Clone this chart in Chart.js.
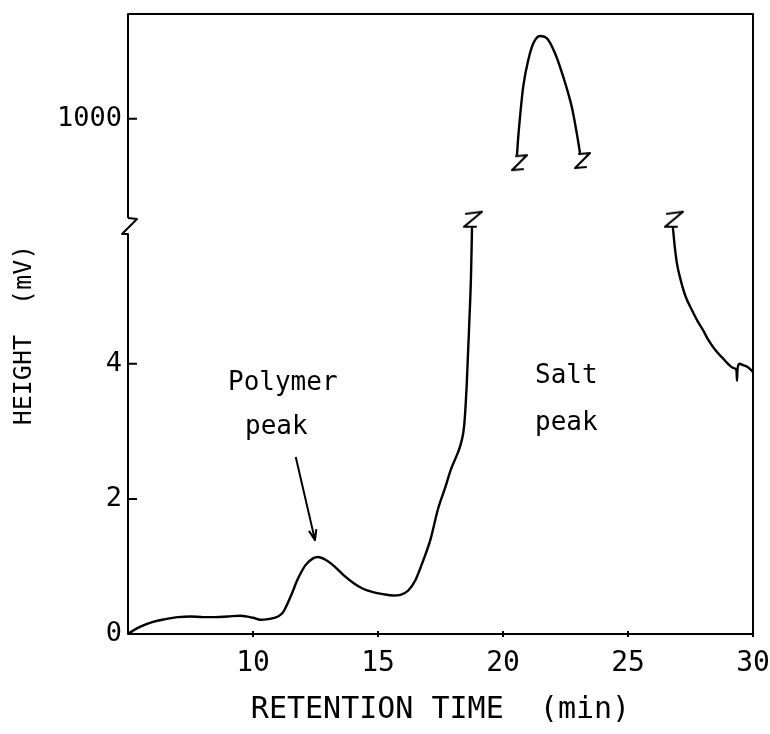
<!DOCTYPE html>
<html lang="en">
<head>
<meta charset="UTF-8">
<title>Polymer and salt peaks</title>
<script src="https://cdn.jsdelivr.net/npm/chart.js"></script>
<style>
  body { margin: 0; background: #fff; }
  canvas { display: block; }
</style>
</head>
<body>
<canvas id="chrom" width="770" height="734"></canvas>
<script>
// trace up to the salt peak, lower part of the axis (mV)
const riseTimes = [5.0, 5.2, 5.5, 6.0, 6.5, 7.0, 7.5, 8.0, 8.5, 9.0, 9.5, 10.0, 10.3, 10.6, 11.0, 11.2,
  11.5, 11.8, 12.1, 12.4, 12.6, 12.9, 13.2, 13.6, 14.0, 14.4, 14.8, 15.2, 15.6, 15.9, 16.2, 16.5,
  16.8, 17.1, 17.4, 17.7, 17.9, 18.1, 18.3, 18.45, 18.55, 18.65, 18.72, 18.76];
const riseHeights = [0.0, 0.05, 0.11, 0.18, 0.22, 0.25, 0.26, 0.25, 0.25, 0.26, 0.27, 0.24, 0.21, 0.22, 0.26, 0.32,
  0.55, 0.82, 1.02, 1.12, 1.14, 1.10, 1.02, 0.88, 0.76, 0.67, 0.62, 0.59, 0.57, 0.58, 0.64, 0.80,
  1.08, 1.40, 1.85, 2.18, 2.42, 2.60, 2.80, 3.10, 3.70, 4.60, 5.30, 6.0];
// top of the salt peak, upper part of the axis
const peakTimes = [20.56, 20.6, 20.68, 20.81, 21.01, 21.21, 21.48, 21.75, 22.08, 22.41, 22.75, 22.95, 23.08];
const peakHeights = [932, 960, 1003, 1060, 1109, 1140, 1154, 1150, 1122, 1078, 1022, 973, 936];
// tail after the salt peak
const tailTimes = [26.8, 26.88, 26.96, 27.1, 27.3, 27.55, 27.8, 28.0, 28.2, 28.5, 28.8, 29.0, 29.2,
  29.34, 29.36, 29.38, 29.46, 29.6, 29.8, 30.0];
const tailHeights = [6.0, 5.7, 5.48, 5.25, 5.0, 4.8, 4.62, 4.5, 4.36, 4.2, 4.08, 4.0, 3.94,
  3.9, 3.75, 3.92, 4.0, 3.98, 3.95, 3.88];

const xTicks = [10, 15, 20, 25, 30];
const lowTicks = [0, 2, 4];
const highTicks = [1000];

// text and arrow inside the plot, in data units of the lower axis
const notes = [
  { text: 'Polymer', x: 9.0, y: 3.61 },
  { text: 'peak', x: 9.68, y: 2.96 },
  { text: 'Salt', x: 21.28, y: 3.72 },
  { text: 'peak', x: 21.28, y: 3.02 }
];
const arrow = { from: [11.71, 2.62], to: [12.48, 1.39] };

const mono = '"DejaVu Sans Mono", "Liberation Mono", monospace';

// little "Z" drawn where a trace runs off its part of the axis
function zMark(below) {
  const c = document.createElement('canvas');
  c.width = 40; c.height = 44;
  const g = c.getContext('2d');
  g.translate(20, 22);
  g.strokeStyle = '#000';
  g.lineWidth = 2.2;
  g.lineJoin = 'round';
  g.lineCap = 'round';
  g.beginPath();
  if (below) {
    g.moveTo(-1, 1); g.lineTo(10, 0); g.lineTo(-5, 15); g.lineTo(6, 14);
  } else {
    g.moveTo(0, 0); g.lineTo(0, -2);
    g.moveTo(-6, -15); g.lineTo(10, -17); g.lineTo(-8, -2); g.lineTo(4, -2);
  }
  g.stroke();
  return c;
}
const zUp = zMark(false);
const zDown = zMark(true);

function pts(xs, ys) {
  return xs.map((x, i) => ({ x: x, y: ys[i] }));
}
function trace(xs, ys, axis, ends, img) {
  return {
    data: pts(xs, ys),
    yAxisID: axis,
    borderColor: '#000',
    borderWidth: 2.4,
    cubicInterpolationMode: 'monotone',
    fill: false,
    clip: false,
    pointRadius: c => ends.includes(c.dataIndex) ? 8 : 0,
    pointStyle: c => ends.includes(c.dataIndex) ? img : 'circle'
  };
}

function setTicks(list) {
  return scale => { scale.ticks = list.map(v => ({ value: v })); };
}
function noPad(scale) {
  scale.paddingTop = 0; scale.paddingBottom = 0;
  scale.paddingLeft = 0; scale.paddingRight = 0;
}

const frame = {
  id: 'frame',
  afterDraw(chart) {
    const { ctx, chartArea: a, scales } = chart;
    const L = a.left, brk = scales.y.top;
    ctx.save();
    ctx.strokeStyle = '#000';
    ctx.lineWidth = 2;
    ctx.lineJoin = 'round';
    ctx.beginPath();
    ctx.moveTo(L, brk - 8);
    ctx.lineTo(L, a.top);
    ctx.lineTo(a.right, a.top);
    ctx.lineTo(a.right, a.bottom + 3);
    ctx.moveTo(a.right, a.bottom);
    ctx.lineTo(L, a.bottom);
    ctx.lineTo(L, brk + 8);
    ctx.lineTo(L - 6, brk + 8);
    ctx.lineTo(L + 9, brk - 7);
    ctx.lineTo(L, brk - 8);
    // inward ticks on the height axis
    [scales.y, scales.y2].forEach(s => s.ticks.forEach(t => {
      const py = s.getPixelForValue(t.value);
      ctx.moveTo(L, py); ctx.lineTo(L + 9, py);
    }));
    scales.x.ticks.forEach(t => {
      const px = scales.x.getPixelForValue(t.value);
      ctx.moveTo(px, a.bottom - 3); ctx.lineTo(px, a.bottom + 3);
    });
    // arrow to the polymer peak
    const x0 = scales.x.getPixelForValue(arrow.from[0]), y0 = scales.y.getPixelForValue(arrow.from[1]);
    const x1 = scales.x.getPixelForValue(arrow.to[0]), y1 = scales.y.getPixelForValue(arrow.to[1]);
    ctx.moveTo(x0, y0); ctx.lineTo(x1, y1);
    const ang = Math.atan2(y1 - y0, x1 - x0);
    ctx.moveTo(x1 - 11 * Math.cos(ang - 0.35), y1 - 11 * Math.sin(ang - 0.35));
    ctx.lineTo(x1, y1);
    ctx.lineTo(x1 - 11 * Math.cos(ang + 0.35), y1 - 11 * Math.sin(ang + 0.35));
    ctx.stroke();

    ctx.fillStyle = '#000';
    ctx.font = '26px ' + mono;
    ctx.textAlign = 'left';
    ctx.textBaseline = 'alphabetic';
    notes.forEach(n => {
      ctx.fillText(n.text, scales.x.getPixelForValue(n.x), scales.y.getPixelForValue(n.y));
    });
    // height axis title, spans both parts of the axis
    ctx.translate(24, 335);
    ctx.rotate(-Math.PI / 2);
    ctx.font = '25px ' + mono;
    ctx.textAlign = 'center';
    ctx.textBaseline = 'middle';
    ctx.fillText('HEIGHT  (mV)', 0, 0);
    ctx.restore();
  }
};

new Chart(document.getElementById('chrom'), {
  type: 'line',
  data: {
    datasets: [
      trace(riseTimes, riseHeights, 'y', [riseTimes.length - 1], zUp),
      trace(peakTimes, peakHeights, 'y2', [0, peakTimes.length - 1], zDown),
      trace(tailTimes, tailHeights, 'y', [0], zUp)
    ]
  },
  options: {
    responsive: false,
    animation: false,
    devicePixelRatio: 1,
    events: [],
    layout: { padding: { top: 14, right: 17, left: 0, bottom: 0 } },
    plugins: { legend: { display: false }, tooltip: { enabled: false } },
    scales: {
      x: {
        type: 'linear',
        min: 5, max: 30,
        afterBuildTicks: setTicks(xTicks),
        afterFit: s => { s.height = 100; noPad(s); },
        grid: { display: false, drawTicks: false },
        border: { display: false },
        ticks: { color: '#000', padding: 13, font: { family: mono, size: 28 } },
        title: {
          display: true, text: 'RETENTION TIME  (min)', color: '#000',
          padding: { top: 0, bottom: 6 }, font: { family: mono, size: 30 }
        }
      },
      y2: {
        type: 'linear',
        position: 'left',
        stack: 'height',
        stackWeight: 212,
        weight: 2,
        min: 800, max: 1195,
        afterBuildTicks: setTicks(highTicks),
        afterFit: s => { s.width = 128; noPad(s); },
        grid: { display: false, drawTicks: false },
        border: { display: false },
        ticks: { color: '#000', padding: 6, font: { family: mono, size: 27 }, callback: v => String(v) }
      },
      y: {
        type: 'linear',
        position: 'left',
        stack: 'height',
        stackWeight: 408,
        weight: 1,
        min: 0, max: 6.04,
        afterBuildTicks: setTicks(lowTicks),
        afterFit: s => { s.width = 128; noPad(s); },
        grid: { display: false, drawTicks: false },
        border: { display: false },
        ticks: { color: '#000', padding: 6, font: { family: mono, size: 27 }, callback: v => String(v) }
      }
    }
  },
  plugins: [frame]
});
</script>
</body>
</html>
